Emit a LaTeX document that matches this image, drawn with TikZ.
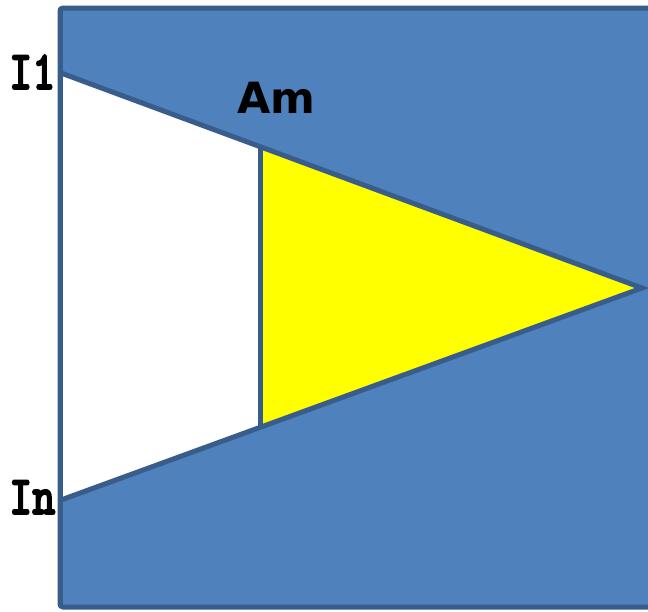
\documentclass[tikz,border=0pt]{standalone}
\usepackage{fontspec}
\newfontfamily\monob{lmmonolt10-bold.otf}[FakeBold=3]
\newfontfamily\sansb{DejaVu Sans}
\definecolor{fillblue}{HTML}{4F81BD}
\definecolor{edgeblue}{HTML}{385D8A}
\definecolor{yel}{HTML}{FFFF00}
\begin{document}
\begin{tikzpicture}[x=1pt,y=-1pt,
  edge/.style={draw=edgeblue,line width=5pt,line join=miter},
  lbl/.style={inner sep=0pt,anchor=base west,font=\monob\fontsize{55}{55}\selectfont,xscale=0.8,transform shape},
  lblam/.style={inner sep=0pt,anchor=base west,font=\sansb\bfseries\fontsize{43}{43}\selectfont}]
\useasboundingbox (0,0) rectangle (648,611);
\draw[edge,fill=fillblue,rounded corners=3pt] (60,8) rectangle (665,607);
\coordinate (t) at (61,73);
\coordinate (b) at (61,500);
\coordinate (p) at (642,288);
\coordinate (yt) at (260,146);
\coordinate (yb) at (260,426);
\fill[white] (t) -- (p) -- (b) -- cycle;
\fill[yel] (yt) -- (p) -- (yb) -- cycle;
\draw[edge] (t) -- (p) -- (b);
\draw[edge] (yt) -- (yb);
\draw[edge] (60,8) -- (60,607);
\node[lbl] (i1) at (9,89) {I1};
\node[lbl] (in) at (9,514) {In};
\node[lblam] (am) at (237,113) {Am};
\end{tikzpicture}
\end{document}
